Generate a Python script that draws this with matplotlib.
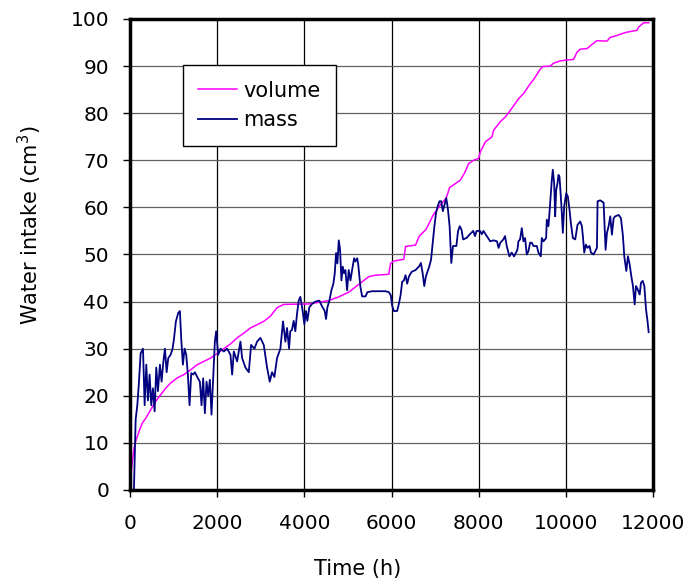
import numpy as np
import matplotlib
matplotlib.use("Agg")
from matplotlib import pyplot as plt


# volume curve (time in h, intake in cm3)
vol_t = [0, 15, 53, 92, 130, 206, 282, 359, 473, 588, 702, 817, 931, 1084, 1237,
         1389, 1542, 1695, 1847, 2000, 2153, 2305, 2458, 2611, 2763, 2916, 3069,
         3221, 3374, 3527, 4100, 4560, 4790, 5019, 5172, 5326, 5479, 5632, 5939,
         5977, 6054, 6284, 6322, 6552, 6636, 6791, 6868, 6946, 7101, 7256, 7333,
         7488, 7579, 7682, 7770, 7885, 8000, 8038, 8153, 8306, 8344, 8497, 8612,
         8727, 8841, 8918, 9033, 9186, 9257, 9333, 9410, 9471, 9640, 9716, 9870,
         10023, 10176, 10253, 10330, 10483, 10560, 10713, 10943, 11019, 11172,
         11326, 11402, 11632, 11670, 11785, 11900]
vol_v = [0, 2.5, 6, 8.9, 10.3, 12.4, 14.2, 15.2, 17, 18.8, 20.2, 21.6, 22.7, 23.8,
         24.5, 25.5, 26.6, 27.3, 28, 29, 30, 31, 32.3, 33.3, 34.4, 35.1, 35.8,
         36.9, 38.7, 39.4, 39.5, 40.2, 41, 42, 43.1, 44.2, 45.3, 45.6, 45.8,
         48.1, 48.6, 49, 51.7, 52, 53.9, 55.3, 56.7, 58.2, 60.3, 62, 64.2,
         65.2, 65.8, 67.4, 69.3, 70, 70.4, 71.8, 73.9, 75, 76.4, 78.2, 79.2,
         80.6, 82.1, 83.1, 84.2, 86.3, 87.1, 88.2, 89.3, 89.9, 90, 90.6, 91.1,
         91.3, 91.4, 92.9, 93.6, 93.7, 94.3, 95.4, 95.3, 96.1, 96.5,
         97, 97.2, 97.6, 98.3, 99.2, 99.2]

# mass curve
mass_t = [0, 15, 90, 130, 168, 206, 244, 298, 336, 374, 412, 450, 488, 527, 565,
          603, 641, 687, 725, 763, 802, 840, 878, 931, 977, 1008, 1053, 1107, 1145,
          1176, 1214, 1252, 1290, 1328, 1366, 1405, 1450, 1489, 1542, 1603, 1641,
          1679, 1718, 1756, 1794, 1832, 1870, 1908, 1947, 1977, 2023, 2076, 2153,
          2229, 2305, 2344, 2382, 2458, 2534, 2573, 2649, 2725, 2779, 2855, 2916,
          2992, 3069, 3145, 3206, 3259, 3313, 3374, 3450, 3511, 3565, 3603, 3649,
          3678, 3716, 3755, 3793, 3831, 3870, 3908, 3962, 4000, 4038, 4069, 4115,
          4176, 4253, 4345, 4406, 4468, 4498, 4529, 4575, 4621, 4667, 4698, 4728,
          4759, 4790, 4820, 4851, 4882, 4912, 4943, 4981, 5019, 5058, 5096, 5142,
          5172, 5211, 5234, 5287, 5326, 5402, 5448, 5556, 5862, 5939, 5985, 6015,
          6054, 6130, 6169, 6207, 6245, 6284, 6322, 6360, 6399, 6460, 6552, 6636,
          6674, 6713, 6752, 6791, 6868, 6907, 6946, 6984, 7023, 7062, 7101, 7140,
          7178, 7217, 7256, 7295, 7333, 7372, 7411, 7488, 7527, 7566, 7605, 7643,
          7721, 7798, 7876, 7915, 7953, 8031, 8070, 8109, 8186, 8264, 8341, 8419,
          8457, 8496, 8567, 8605, 8644, 8705, 8759, 8812, 8889, 8912, 8950, 8989,
          9027, 9065, 9103, 9142, 9180, 9218, 9257, 9333, 9372, 9425, 9448, 9487,
          9548, 9563, 9601, 9624, 9655, 9678, 9701, 9732, 9755, 9778, 9808, 9831,
          9854, 9885, 9908, 9931, 9962, 10008, 10046, 10084, 10115, 10161, 10215,
          10268, 10330, 10368, 10391, 10422, 10460, 10498, 10544, 10575, 10636,
          10713, 10728, 10789, 10866, 10912, 10943, 10981, 11019, 11057, 11096,
          11134, 11211, 11264, 11310, 11341, 11387, 11425, 11464, 11502, 11540,
          11579, 11609, 11648, 11694, 11724, 11763, 11801, 11839, 11877, 11900]
mass_v = [3, 0, 0, 15, 18, 23, 29, 30, 18, 26.6, 19, 24.5, 18, 21.6, 16.7,
          26, 21, 26.6, 23, 27, 30, 25, 28, 28.7, 30, 32, 35.8, 37.6, 38,
          32, 26.6, 30, 28.7, 24.5, 18, 24.8, 24.5, 25, 24, 23, 18,
          23.7, 16.3, 23, 20, 23.4, 16, 23.7, 31.5, 33.7, 28.7, 30, 29.4,
          30, 28.7, 24.5, 29.4, 27.3, 31.5, 28, 26, 25, 30.8, 30, 31.5,
          32.3, 30.8, 26, 23, 25, 24, 28, 30, 35.8, 31.5, 34.4, 30,
          33.7, 34, 35.9, 33.7, 37.3, 40.2, 41, 38, 35.2, 38, 35.9, 38.8,
          39.5, 40, 40.2, 39, 38, 36.3, 38.8, 40.2, 42.4, 43.8, 46, 50.3,
          48.1, 53, 51, 44.5, 47.4, 46, 46.7, 42.4, 46.7, 44.5, 46.7, 49.2,
          48.5, 49.2, 48.1, 43.1, 41.1, 41.1, 42, 42.2, 42.2, 42, 41.3, 39.1,
          38, 38, 39.5, 41.3, 44.2, 44.5, 45.6, 43.8, 45.3, 46.3, 46.7, 47.5,
          48.2, 46.1, 43.3, 45.4, 47.5, 48.9, 52.5, 56, 58.9, 60.3, 61.3, 61.3,
          59.2, 60.6, 62, 59.6, 56, 48.2, 51.8, 51.8, 55, 56, 55.3, 53.2,
          53.5, 54.3, 55, 53.9, 55, 55, 54.3, 55, 53.9, 52.8, 53, 52.8,
          51.4, 52.5, 53.2, 53.9, 51.8, 49.6, 50.4, 49.6, 51, 52.8, 53.2, 55.6,
          52.8, 53.5, 50, 50.7, 52.5, 52.5, 51.8, 51.8, 50.4, 49.6, 53.5, 52.8,
          53.5, 57.4, 56, 58.8, 63, 65.8, 68, 65.1, 58.1, 63.7, 65.1, 66.9,
          66.5, 62.3, 58.8, 54.6, 60.2, 63, 62.3, 59.5, 56.7, 53.5, 53.2,
          56.3, 57, 56, 53.9, 50.4, 52.1, 51.4, 51.8, 50.4, 50,
          51.4, 61.3, 61.5, 61, 51, 54.6, 56, 58.1, 54.2, 57.7,
          58.1, 58.4, 57.7, 53.9, 49.6, 46.5, 49.6, 47.9, 45.4, 43.3,
          39.4, 43.3, 42.6, 41.5, 44, 44.4, 43.3, 38.4, 35.6, 33.5]

x_ticks = np.arange(0, 12001, 2000)
y_ticks = np.arange(0, 101, 10)


def main():
    plt.rcParams['font.family'] = ['DejaVu Sans']
    fig = plt.figure(figsize=(6.9, 5.88), dpi=100)
    ax = fig.add_axes([0.1884, 0.1667, 0.758, 0.801])

    ax.plot(vol_t, vol_v, color='#ff00ff', lw=1.1, label='volume', zorder=3)
    ax.plot(mass_t, mass_v, color='#000080', lw=1.3, label='mass', zorder=4)

    ax.set_xlim(0, 12000)
    ax.set_ylim(0, 100)
    ax.set_xticks(x_ticks)
    ax.set_yticks(y_ticks)
    ax.tick_params(direction='out', length=5, width=1, labelsize=14.5)
    ax.tick_params(axis='x', pad=12)
    ax.tick_params(axis='y', pad=10)

    # grid: vertical black, horizontal grey
    ax.xaxis.grid(True, color='black', lw=0.9)
    ax.yaxis.grid(True, color='#606060', lw=0.9)
    ax.set_axisbelow(True)
    for s in ax.spines.values():
        s.set_linewidth(2.5)
        s.set_zorder(5)

    ax.set_xlabel('Time (h)', fontsize=15)
    ax.set_ylabel('Water intake (cm$^3$)', fontsize=15)
    ax.xaxis.set_label_coords(0.436, -0.147)
    ax.yaxis.set_label_coords(-0.164, 0.563)

    leg = ax.legend(loc='upper left', bbox_to_anchor=(0.101, 0.902), fontsize=15,
                    frameon=True, fancybox=False, handlelength=1.85,
                    borderpad=0.75, labelspacing=0.45, handletextpad=0.3,
                    borderaxespad=0)
    leg.get_frame().set_edgecolor('black')
    leg.get_frame().set_linewidth(1.0)
    leg.get_frame().set_alpha(1)
    leg.set_zorder(6)

    plt.savefig('out.png', dpi=100)


if __name__ == "__main__":
    main()
